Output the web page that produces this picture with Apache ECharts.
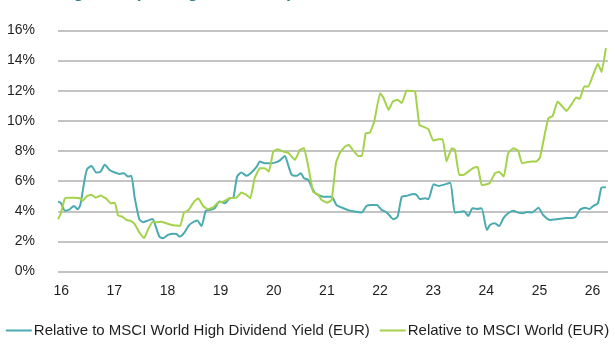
<!DOCTYPE html>
<html>
<head>
<meta charset="utf-8">
<script src="https://cdn.jsdelivr.net/npm/echarts@6/dist/echarts.min.js"></script>
<style>
  html, body { margin: 0; padding: 0; background: #ffffff; }
  #chart { width: 615px; height: 345px; }
</style>
</head>
<body>
<div id="chart"></div>
<script>
// Rolling tracking error, observation dates as decimal years (16 = 2016)
const titleText = 'Tracking Error (Rolling 12 Months)';
const seriesNames = [
  'Relative to MSCI World High Dividend Yield (EUR)',
  'Relative to MSCI World (EUR)'
];
const yearTicks = [16, 17, 18, 19, 20, 21, 22, 23, 24, 25, 26];
const percentTicks = [0, 2, 4, 6, 8, 10, 12, 14, 16];

const hdyDates = [
  15.94, 15.99, 16.07, 16.16, 16.24, 16.31, 16.36, 16.44, 16.49, 16.57, 16.66, 16.74, 16.82, 16.91,
  17.01, 17.10, 17.18, 17.26, 17.32, 17.38, 17.47, 17.54, 17.63, 17.72, 17.78, 17.85, 17.92,
  18.01, 18.11, 18.17, 18.23, 18.31, 18.40, 18.48, 18.56, 18.64, 18.72, 18.80, 18.89, 18.98,
  19.08, 19.17, 19.24, 19.31, 19.39, 19.49, 19.58, 19.68, 19.74, 19.83, 19.93,
  20.02, 20.11, 20.21, 20.27, 20.34, 20.43, 20.51, 20.57, 20.65, 20.71, 20.77, 20.84, 20.93,
  21.09, 21.18, 21.31, 21.43, 21.56, 21.65, 21.75, 21.84, 21.94,
  22.03, 22.13, 22.25, 22.33, 22.41, 22.50, 22.63, 22.69, 22.75, 22.85, 22.91,
  23.01, 23.10, 23.19, 23.32, 23.41, 23.51, 23.58, 23.66, 23.74, 23.82, 23.91,
  24.01, 24.07, 24.16, 24.24, 24.32, 24.41, 24.51, 24.60, 24.69, 24.76, 24.86, 24.98,
  25.07, 25.20, 25.36, 25.51, 25.67, 25.76, 25.86, 25.94,
  26.02, 26.10, 26.17, 26.25
];
const hdyValues = [
  4.64, 4.57, 4.04, 4.13, 4.35, 4.13, 4.42, 6.08, 6.81, 7.01, 6.57, 6.63, 7.08, 6.74,
  6.57, 6.48, 6.52, 6.30, 6.35, 4.97, 3.47, 3.27, 3.38, 3.49, 2.98, 2.31, 2.21,
  2.43, 2.51, 2.49, 2.31, 2.54, 3.05, 3.27, 3.38, 3.02, 4.02, 4.09, 4.20, 4.64,
  4.53, 4.86, 4.90, 6.30, 6.57, 6.35, 6.57, 6.96, 7.30, 7.19, 7.19,
  7.23, 7.36, 7.67, 7.08, 6.41, 6.35, 6.52, 6.19, 6.08, 5.63, 5.24, 5.08, 4.97,
  4.97, 4.42, 4.20, 4.04, 3.97, 3.91, 4.37, 4.42, 4.42,
  4.09, 3.91, 3.47, 3.64, 4.97, 5.02, 5.15, 5.08, 4.80, 4.86, 4.80,
  5.79, 5.68, 5.75, 5.90, 3.91, 3.97, 4.00, 3.69, 4.20, 4.15, 4.20,
  2.76, 3.09, 3.20, 3.02, 3.53, 3.87, 4.04, 3.91, 3.87, 3.95, 3.91, 4.24,
  3.75, 3.42, 3.49, 3.55, 3.60, 4.09, 4.24, 4.15,
  4.37, 4.53, 5.57, 5.59
];

const worldDates = [
  15.94, 15.99, 16.07, 16.16, 16.25, 16.35, 16.40, 16.49, 16.57, 16.65, 16.74, 16.84, 16.93,
  17.01, 17.07, 17.15, 17.23, 17.31, 17.38, 17.48, 17.56, 17.63, 17.72, 17.79, 17.89, 17.98,
  18.08, 18.17, 18.24, 18.31, 18.40, 18.50, 18.58, 18.67, 18.76, 18.86, 18.95,
  19.05, 19.17, 19.30, 19.39, 19.49, 19.56, 19.64, 19.74, 19.83, 19.91, 19.99,
  20.08, 20.18, 20.27, 20.40, 20.49, 20.57, 20.65, 20.74, 20.84, 20.90,
  21.00, 21.09, 21.17, 21.24, 21.34, 21.41, 21.50, 21.59, 21.66, 21.73, 21.81, 21.89,
  22.00, 22.06, 22.16, 22.24, 22.33, 22.41, 22.50, 22.58, 22.66, 22.74, 22.81, 22.91,
  23.00, 23.10, 23.18, 23.25, 23.35, 23.41, 23.49, 23.57, 23.66, 23.75, 23.84, 23.91,
  24.01, 24.07, 24.16, 24.24, 24.33, 24.41, 24.51, 24.60, 24.67, 24.76, 24.86, 24.94,
  25.01, 25.11, 25.17, 25.25, 25.34, 25.42, 25.51, 25.61, 25.69, 25.76, 25.84, 25.92,
  26.01, 26.10, 26.17, 26.25
];
const worldValues = [
  3.47, 3.82, 4.86, 4.90, 4.90, 4.86, 4.68, 5.02, 5.10, 4.90, 5.04, 4.86, 4.53,
  4.57, 3.71, 3.64, 3.42, 3.36, 3.16, 2.54, 2.21, 2.76, 3.31, 3.27, 3.31, 3.20,
  3.09, 3.05, 3.02, 3.91, 4.09, 4.64, 4.86, 4.35, 4.13, 4.26, 4.57,
  4.64, 4.86, 4.90, 5.24, 5.08, 4.86, 6.19, 6.86, 6.86, 6.63, 7.96,
  8.12, 7.96, 7.89, 7.41, 8.07, 8.20, 6.96, 5.30, 5.08, 4.75,
  4.57, 4.75, 7.19, 7.85, 8.29, 8.41, 8.01, 7.67, 7.67, 9.18, 9.22, 9.95,
  11.84, 11.57, 10.73, 11.28, 11.40, 11.18, 12.01, 11.99, 11.95, 9.73, 9.62, 9.45,
  8.69, 8.78, 8.78, 7.30, 8.18, 8.07, 6.41, 6.41, 6.63, 6.86, 6.94, 5.75,
  5.79, 5.90, 6.52, 6.63, 6.30, 7.85, 8.18, 8.01, 7.19, 7.26, 7.30, 7.30,
  7.56, 9.29, 10.18, 10.33, 11.28, 11.00, 10.66, 11.13, 11.55, 11.46, 12.28, 12.28,
  13.06, 13.79, 13.24, 14.83
];

const pairs = (xs, ys) => xs.map((x, i) => [x, ys[i]]);

const chart = echarts.init(document.getElementById('chart'), null, { renderer: 'canvas' });

const textColor = '#1f1f1f';
const fontFamily = '"Liberation Sans", Arial, sans-serif';

chart.setOption({
  animation: false,
  backgroundColor: '#ffffff',
  color: ['#4aabb0', '#a4d24a'],
  grid: { left: 58, right: 7, top: 30.5, bottom: 73.5, containLabel: false },
  graphic: [{
    type: 'text',
    left: 14,
    top: -15,
    style: {
      text: titleText,
      fill: '#2f7f86',
      font: 'bold 17px ' + fontFamily
    }
  }],
  xAxis: {
    type: 'value',
    min: 15.94,
    max: 26.29,
    axisLine: { show: false },
    axisTick: { show: false },
    splitLine: { show: false },
    axisLabel: {
      customValues: yearTicks,
      formatter: v => String(Math.round(v)),
      color: textColor,
      fontSize: 14,
      fontFamily: fontFamily,
      margin: 13
    }
  },
  yAxis: {
    type: 'value',
    min: 0,
    max: 16,
    interval: 2,
    axisLine: { show: false },
    axisTick: { show: false },
    splitLine: { show: true, lineStyle: { color: '#b0b0b0', width: 1.5 } },
    axisLabel: {
      customValues: percentTicks,
      formatter: v => v + '%',
      color: textColor,
      fontSize: 14,
      fontFamily: fontFamily,
      margin: 23
    }
  },
  legend: {
    bottom: 2,
    left: 'center',
    itemWidth: 26,
    itemHeight: 2,
    itemGap: 10,
    icon: 'rect',
    textStyle: { color: textColor, fontSize: 15, fontFamily: fontFamily, padding: [0, 0, 0, -3] },
    data: seriesNames
  },
  series: [
    {
      name: seriesNames[0],
      type: 'line',
      data: pairs(hdyDates, hdyValues),
      showSymbol: false,
      smooth: 0.2,
      lineStyle: { width: 2 }
    },
    {
      name: seriesNames[1],
      type: 'line',
      data: pairs(worldDates, worldValues),
      showSymbol: false,
      smooth: 0.1,
      lineStyle: { width: 2 }
    }
  ]
});
</script>
</body>
</html>
